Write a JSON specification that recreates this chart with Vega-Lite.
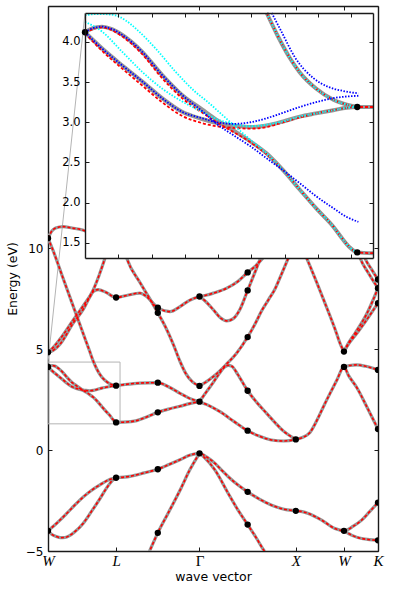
{
"$schema":"https://vega.github.io/schema/vega-lite/v6.json",
"width":330,"height":545,
"autosize":{"type":"none"},
"padding":{"left":48,"top":6,"right":17,"bottom":38},
"config":{"view":{"stroke":null},"axis":{"grid":false,"domainColor":"#1a1a1a","tickColor":"#1a1a1a","domainWidth":1.4,"tickWidth":1,"labelColor":"#000","labelFont":"DejaVu Sans","labelFontSize":12,"titleFont":"DejaVu Sans","titleFontWeight":"normal","titleFontSize":12.5,"titleColor":"#000"}},
"datasets":{
"box":[{"k0":0,"k1":0.748,"e0":1.3,"e1":4.36}],
"conn":[{"k0":0,"e0":4.36,"k1":0.3842,"e1":21.65}],
"ibox":[{"k0":0,"k1":0.748,"e0":1.31,"e1":4.36}],
"main":[
{"b":"m1","k":0,"E":4.12},{"b":"m1","k":0.02,"E":4.17},{"b":"m1","k":0.044,"E":4.19},{"b":"m1","k":0.07,"E":4.16},{"b":"m1","k":0.096,"E":4.09},{"b":"m1","k":0.148,"E":3.88},{"b":"m1","k":0.2,"E":3.59},{"b":"m1","k":0.252,"E":3.34},{"b":"m1","k":0.304,"E":3.16},{"b":"m1","k":0.342,"E":3.03},{"b":"m1","k":0.385,"E":2.9},{"b":"m1","k":0.43,"E":2.76},{"b":"m1","k":0.472,"E":2.61},{"b":"m1","k":0.515,"E":2.4},{"b":"m1","k":0.558,"E":2.16},{"b":"m1","k":0.6,"E":1.93},{"b":"m1","k":0.645,"E":1.7},{"b":"m1","k":0.67,"E":1.54},{"b":"m1","k":0.688,"E":1.44},{"b":"m1","k":0.7071,"E":1.37},
{"b":"m2","k":0,"E":4.12},{"b":"m2","k":0.044,"E":3.92},{"b":"m2","k":0.096,"E":3.71},{"b":"m2","k":0.148,"E":3.51},{"b":"m2","k":0.2,"E":3.3},{"b":"m2","k":0.252,"E":3.13},{"b":"m2","k":0.304,"E":3.04},{"b":"m2","k":0.342,"E":2.99},{"b":"m2","k":0.385,"E":2.96},{"b":"m2","k":0.43,"E":2.94},{"b":"m2","k":0.472,"E":2.96},{"b":"m2","k":0.515,"E":3.01},{"b":"m2","k":0.558,"E":3.07},{"b":"m2","k":0.6,"E":3.11},{"b":"m2","k":0.645,"E":3.15},{"b":"m2","k":0.68,"E":3.18},{"b":"m2","k":0.7071,"E":3.19},
{"b":"m3","k":0,"E":10.5},{"b":"m3","k":0.049,"E":9.93},{"b":"m3","k":0.15,"E":8.6},{"b":"m3","k":0.25,"E":7.28},{"b":"m3","k":0.35,"E":5.97},{"b":"m3","k":0.43,"E":4.93},{"b":"m3","k":0.472,"E":4.38},{"b":"m3","k":0.5,"E":4.08},{"b":"m3","k":0.532,"E":3.8},{"b":"m3","k":0.558,"E":3.62},{"b":"m3","k":0.6,"E":3.42},{"b":"m3","k":0.645,"E":3.28},{"b":"m3","k":0.68,"E":3.22},{"b":"m3","k":0.7071,"E":3.19},
{"b":"m4","k":0,"E":10.5},{"b":"m4","k":0.04,"E":10.85},{"b":"m4","k":0.08,"E":11.0},{"b":"m4","k":0.156,"E":11.07},{"b":"m4","k":0.25,"E":11.0},{"b":"m4","k":0.36,"E":10.9},{"b":"m4","k":0.45,"E":10.7},
{"b":"m5","k":0,"E":4.85},{"b":"m5","k":0.03,"E":4.88},{"b":"m5","k":0.125,"E":5.25},{"b":"m5","k":0.263,"E":6.3},{"b":"m5","k":0.367,"E":6.98},{"b":"m5","k":0.43,"E":7.55},{"b":"m5","k":0.47,"E":7.85},{"b":"m5","k":0.52,"E":7.95},{"b":"m5","k":0.6,"E":7.82},{"b":"m5","k":0.7071,"E":7.56},{"b":"m5","k":0.817,"E":7.66},{"b":"m5","k":0.955,"E":7.78},{"b":"m5","k":1.02,"E":7.62},{"b":"m5","k":1.1401,"E":7.05},{"b":"m5","k":1.267,"E":6.86},{"b":"m5","k":1.371,"E":7.11},{"b":"m5","k":1.47,"E":7.42},{"b":"m5","k":1.5731,"E":7.61},
{"b":"m6","k":0,"E":4.85},{"b":"m6","k":0.03,"E":4.97},{"b":"m6","k":0.125,"E":5.5},{"b":"m6","k":0.263,"E":6.45},{"b":"m6","k":0.367,"E":7.15},{"b":"m6","k":0.47,"E":7.94},{"b":"m6","k":0.53,"E":8.65},{"b":"m6","k":0.592,"E":9.51},{"b":"m6","k":0.65,"E":10.4},
{"b":"m7","k":0.78,"E":10.1},{"b":"m7","k":0.824,"E":9.43},{"b":"m7","k":0.955,"E":8.3},{"b":"m7","k":1.05,"E":7.55},{"b":"m7","k":1.1401,"E":6.8},{"b":"m7","k":1.22,"E":6.1},{"b":"m7","k":1.3,"E":5.25},{"b":"m7","k":1.37,"E":4.4},{"b":"m7","k":1.43,"E":3.8},{"b":"m7","k":1.5,"E":3.38},{"b":"m7","k":1.5731,"E":3.18},
{"b":"m8","k":0.7071,"E":1.37},{"b":"m8","k":0.78,"E":1.38},{"b":"m8","k":0.921,"E":1.46},{"b":"m8","k":1.03,"E":1.65},{"b":"m8","k":1.1401,"E":1.87},{"b":"m8","k":1.25,"E":2.03},{"b":"m8","k":1.371,"E":2.17},{"b":"m8","k":1.47,"E":2.3},{"b":"m8","k":1.5731,"E":2.4},
{"b":"m9","k":0.7071,"E":3.19},{"b":"m9","k":0.8,"E":3.25},{"b":"m9","k":0.956,"E":3.32},{"b":"m9","k":1.1401,"E":3.34},{"b":"m9","k":1.25,"E":3.14},{"b":"m9","k":1.371,"E":2.81},{"b":"m9","k":1.47,"E":2.56},{"b":"m9","k":1.5731,"E":2.4},
{"b":"m10","k":1.5731,"E":2.4},{"b":"m10","k":1.65,"E":2.25},{"b":"m10","k":1.786,"E":1.9},{"b":"m10","k":1.93,"E":1.42},{"b":"m10","k":2.0731,"E":0.96},{"b":"m10","k":2.2,"E":0.68},{"b":"m10","k":2.32,"E":0.5},{"b":"m10","k":2.45,"E":0.45},{"b":"m10","k":2.5731,"E":0.53},{"b":"m10","k":2.64,"E":0.62},{"b":"m10","k":2.72,"E":0.87},{"b":"m10","k":2.79,"E":1.45},{"b":"m10","k":2.86,"E":2.15},{"b":"m10","k":2.93,"E":2.82},{"b":"m10","k":3.0,"E":3.47},{"b":"m10","k":3.0731,"E":4.12},{"b":"m10","k":3.12,"E":3.7},{"b":"m10","k":3.206,"E":3.1},{"b":"m10","k":3.31,"E":2.15},{"b":"m10","k":3.4267,"E":1.04},
{"b":"m11","k":1.5731,"E":2.4},{"b":"m11","k":1.65,"E":2.92},{"b":"m11","k":1.72,"E":3.38},{"b":"m11","k":1.78,"E":3.8},{"b":"m11","k":1.83,"E":4.1},{"b":"m11","k":1.87,"E":4.2},{"b":"m11","k":1.91,"E":4.15},{"b":"m11","k":1.97,"E":3.75},{"b":"m11","k":2.0731,"E":2.94},{"b":"m11","k":2.17,"E":2.35},{"b":"m11","k":2.27,"E":1.82},{"b":"m11","k":2.36,"E":1.35},{"b":"m11","k":2.443,"E":0.95},{"b":"m11","k":2.5731,"E":0.53},
{"b":"m12","k":1.5731,"E":3.18},{"b":"m12","k":1.65,"E":3.4},{"b":"m12","k":1.717,"E":3.64},{"b":"m12","k":1.79,"E":3.95},{"b":"m12","k":1.856,"E":4.27},{"b":"m12","k":1.95,"E":4.75},{"b":"m12","k":2.0731,"E":5.6},{"b":"m12","k":2.15,"E":6.25},{"b":"m12","k":2.219,"E":6.9},{"b":"m12","k":2.29,"E":7.45},{"b":"m12","k":2.357,"E":7.98},{"b":"m12","k":2.425,"E":8.72},{"b":"m12","k":2.495,"E":9.51},{"b":"m12","k":2.58,"E":10.5},
{"b":"m13","k":1.5731,"E":7.61},{"b":"m13","k":1.65,"E":7.68},{"b":"m13","k":1.72,"E":7.78},{"b":"m13","k":1.856,"E":8.02},{"b":"m13","k":1.97,"E":8.35},{"b":"m13","k":2.0731,"E":8.8},{"b":"m13","k":2.15,"E":9.1},{"b":"m13","k":2.219,"E":9.45},{"b":"m13","k":2.33,"E":10.1},
{"b":"m14","k":1.5731,"E":7.61},{"b":"m14","k":1.64,"E":7.35},{"b":"m14","k":1.717,"E":6.95},{"b":"m14","k":1.79,"E":6.55},{"b":"m14","k":1.856,"E":6.4},{"b":"m14","k":1.92,"E":6.5},{"b":"m14","k":1.994,"E":6.98},{"b":"m14","k":2.0731,"E":7.91},{"b":"m14","k":2.14,"E":8.7},{"b":"m14","k":2.201,"E":9.43},{"b":"m14","k":2.3,"E":10.4},
{"b":"m15","k":2.6,"E":10.45},{"b":"m15","k":2.686,"E":9.51},{"b":"m15","k":2.876,"E":7.28},{"b":"m15","k":2.98,"E":6.0},{"b":"m15","k":3.04,"E":5.2},{"b":"m15","k":3.0731,"E":4.88},
{"b":"m16","k":3.0731,"E":4.12},{"b":"m16","k":3.13,"E":4.19},{"b":"m16","k":3.206,"E":4.22},{"b":"m16","k":3.3,"E":4.15},{"b":"m16","k":3.4267,"E":3.97},
{"b":"m17","k":3.0731,"E":4.88},{"b":"m17","k":3.12,"E":5.25},{"b":"m17","k":3.21,"E":5.8},{"b":"m17","k":3.33,"E":6.6},{"b":"m17","k":3.4267,"E":7.28},
{"b":"m18","k":3.0731,"E":4.88},{"b":"m18","k":3.12,"E":5.3},{"b":"m18","k":3.19,"E":5.8},{"b":"m18","k":3.31,"E":6.75},{"b":"m18","k":3.4267,"E":8.02},
{"b":"m19","k":3.19,"E":10.3},{"b":"m19","k":3.24,"E":9.53},{"b":"m19","k":3.33,"E":8.75},{"b":"m19","k":3.4267,"E":8.02},
{"b":"m20","k":3.24,"E":10.3},{"b":"m20","k":3.29,"E":9.53},{"b":"m20","k":3.36,"E":8.95},{"b":"m20","k":3.4267,"E":8.45},
{"b":"m21","k":0,"E":-4.0},{"b":"m21","k":0.1,"E":-3.58},{"b":"m21","k":0.194,"E":-3.14},{"b":"m21","k":0.28,"E":-2.72},{"b":"m21","k":0.367,"E":-2.32},{"b":"m21","k":0.45,"E":-2.0},{"b":"m21","k":0.54,"E":-1.72},{"b":"m21","k":0.62,"E":-1.5},{"b":"m21","k":0.67,"E":-1.41},{"b":"m21","k":0.7071,"E":-1.37},
{"b":"m22","k":0,"E":-4.0},{"b":"m22","k":0.04,"E":-4.18},{"b":"m22","k":0.083,"E":-4.28},{"b":"m22","k":0.13,"E":-4.34},{"b":"m22","k":0.177,"E":-4.33},{"b":"m22","k":0.22,"E":-4.25},{"b":"m22","k":0.27,"E":-4.08},{"b":"m22","k":0.367,"E":-3.62},{"b":"m22","k":0.45,"E":-3.05},{"b":"m22","k":0.54,"E":-2.4},{"b":"m22","k":0.62,"E":-1.8},{"b":"m22","k":0.67,"E":-1.5},{"b":"m22","k":0.7071,"E":-1.37},
{"b":"m23","k":0.7071,"E":-1.37},{"b":"m23","k":0.85,"E":-1.3},{"b":"m23","k":1.0,"E":-1.13},{"b":"m23","k":1.1401,"E":-0.95},{"b":"m23","k":1.25,"E":-0.73},{"b":"m23","k":1.37,"E":-0.48},{"b":"m23","k":1.47,"E":-0.26},{"b":"m23","k":1.5731,"E":-0.16},{"b":"m23","k":1.65,"E":-0.35},{"b":"m23","k":1.734,"E":-0.66},{"b":"m23","k":1.8,"E":-0.98},{"b":"m23","k":1.872,"E":-1.32},{"b":"m23","k":1.97,"E":-1.72},{"b":"m23","k":2.0731,"E":-2.07},{"b":"m23","k":2.2,"E":-2.44},{"b":"m23","k":2.323,"E":-2.73},{"b":"m23","k":2.45,"E":-2.93},{"b":"m23","k":2.5731,"E":-3.01},{"b":"m23","k":2.64,"E":-3.05},{"b":"m23","k":2.703,"E":-3.14},{"b":"m23","k":2.842,"E":-3.47},{"b":"m23","k":2.98,"E":-3.89},{"b":"m23","k":3.0731,"E":-4.0},{"b":"m23","k":3.17,"E":-3.77},{"b":"m23","k":3.257,"E":-3.47},{"b":"m23","k":3.34,"E":-3.05},{"b":"m23","k":3.4267,"E":-2.6},
{"b":"m24","k":1.5731,"E":-0.16},{"b":"m24","k":1.62,"E":-0.35},{"b":"m24","k":1.734,"E":-0.99},{"b":"m24","k":1.872,"E":-2.15},{"b":"m24","k":1.97,"E":-2.95},{"b":"m24","k":2.0731,"E":-3.69},{"b":"m24","k":2.16,"E":-4.33},{"b":"m24","k":2.24,"E":-4.96},{"b":"m24","k":2.33,"E":-5.6},
{"b":"m25","k":1.0,"E":-5.6},{"b":"m25","k":1.059,"E":-4.96},{"b":"m25","k":1.1401,"E":-4.1},{"b":"m25","k":1.25,"E":-3.1},{"b":"m25","k":1.371,"E":-1.99},{"b":"m25","k":1.47,"E":-1.0},{"b":"m25","k":1.5731,"E":-0.16},
{"b":"m26","k":3.0731,"E":-4.0},{"b":"m26","k":3.17,"E":-4.25},{"b":"m26","k":3.257,"E":-4.38},{"b":"m26","k":3.34,"E":-4.44},{"b":"m26","k":3.4267,"E":-4.47}
],
"mdots":[
{"k":0,"E":-4.0},{"k":0,"E":4.12},{"k":0,"E":4.85},{"k":0,"E":10.5},
{"k":0.7071,"E":-1.37},{"k":0.7071,"E":1.37},{"k":0.7071,"E":3.19},{"k":0.7071,"E":7.56},
{"k":1.1401,"E":-4.1},{"k":1.1401,"E":-0.95},{"k":1.1401,"E":1.87},{"k":1.1401,"E":3.34},{"k":1.1401,"E":6.8},{"k":1.1401,"E":7.05},
{"k":1.5731,"E":-0.16},{"k":1.5731,"E":2.4},{"k":1.5731,"E":3.18},{"k":1.5731,"E":7.61},
{"k":2.0731,"E":-3.69},{"k":2.0731,"E":-2.07},{"k":2.0731,"E":0.96},{"k":2.0731,"E":2.94},{"k":2.0731,"E":5.6},{"k":2.0731,"E":7.91},{"k":2.0731,"E":8.8},
{"k":2.5731,"E":-3.01},{"k":2.5731,"E":0.53},
{"k":3.0731,"E":-4.0},{"k":3.0731,"E":4.12},{"k":3.0731,"E":4.88},
{"k":3.4267,"E":-4.47},{"k":3.4267,"E":-2.6},{"k":3.4267,"E":1.04},{"k":3.4267,"E":3.97},{"k":3.4267,"E":7.28},{"k":3.4267,"E":8.02},{"k":3.4267,"E":8.45}
],
"ig":[
{"b":"g1","k":0,"E":4.12},{"b":"g1","k":0.02,"E":4.17},{"b":"g1","k":0.044,"E":4.19},{"b":"g1","k":0.07,"E":4.16},{"b":"g1","k":0.096,"E":4.09},{"b":"g1","k":0.148,"E":3.88},{"b":"g1","k":0.2,"E":3.59},{"b":"g1","k":0.252,"E":3.34},{"b":"g1","k":0.304,"E":3.16},{"b":"g1","k":0.342,"E":3.03},{"b":"g1","k":0.385,"E":2.9},{"b":"g1","k":0.43,"E":2.76},{"b":"g1","k":0.472,"E":2.61},{"b":"g1","k":0.515,"E":2.4},{"b":"g1","k":0.558,"E":2.16},{"b":"g1","k":0.6,"E":1.93},{"b":"g1","k":0.645,"E":1.7},{"b":"g1","k":0.67,"E":1.54},{"b":"g1","k":0.688,"E":1.44},{"b":"g1","k":0.7071,"E":1.38},{"b":"g1","k":0.748,"E":1.37},
{"b":"g2","k":0,"E":4.12},{"b":"g2","k":0.044,"E":3.92},{"b":"g2","k":0.096,"E":3.71},{"b":"g2","k":0.148,"E":3.51},{"b":"g2","k":0.2,"E":3.3},{"b":"g2","k":0.252,"E":3.13},{"b":"g2","k":0.304,"E":3.04},{"b":"g2","k":0.342,"E":2.99},{"b":"g2","k":0.385,"E":2.96},{"b":"g2","k":0.43,"E":2.94},{"b":"g2","k":0.472,"E":2.96},{"b":"g2","k":0.515,"E":3.01},{"b":"g2","k":0.558,"E":3.07},{"b":"g2","k":0.6,"E":3.11},{"b":"g2","k":0.645,"E":3.15},{"b":"g2","k":0.68,"E":3.18},{"b":"g2","k":0.7071,"E":3.19},{"b":"g2","k":0.748,"E":3.19},
{"b":"g3","k":0.472,"E":4.36},{"b":"g3","k":0.5,"E":4.08},{"b":"g3","k":0.532,"E":3.8},{"b":"g3","k":0.558,"E":3.62},{"b":"g3","k":0.6,"E":3.42},{"b":"g3","k":0.645,"E":3.28},{"b":"g3","k":0.68,"E":3.22},{"b":"g3","k":0.7071,"E":3.19}
],
"ir":[
{"b":"r1","k":0,"E":4.12},{"b":"r1","k":0.044,"E":4.18},{"b":"r1","k":0.096,"E":4.07},{"b":"r1","k":0.148,"E":3.85},{"b":"r1","k":0.2,"E":3.55},{"b":"r1","k":0.252,"E":3.3},{"b":"r1","k":0.304,"E":3.12},{"b":"r1","k":0.342,"E":3.0},{"b":"r1","k":0.385,"E":2.88},{"b":"r1","k":0.43,"E":2.75},{"b":"r1","k":0.472,"E":2.6},{"b":"r1","k":0.515,"E":2.4},{"b":"r1","k":0.558,"E":2.16},{"b":"r1","k":0.6,"E":1.93},{"b":"r1","k":0.645,"E":1.7},{"b":"r1","k":0.67,"E":1.54},{"b":"r1","k":0.688,"E":1.44},{"b":"r1","k":0.7071,"E":1.38},{"b":"r1","k":0.748,"E":1.37},
{"b":"r2","k":0,"E":4.11},{"b":"r2","k":0.044,"E":3.89},{"b":"r2","k":0.096,"E":3.67},{"b":"r2","k":0.148,"E":3.46},{"b":"r2","k":0.2,"E":3.25},{"b":"r2","k":0.252,"E":3.08},{"b":"r2","k":0.304,"E":2.99},{"b":"r2","k":0.342,"E":2.95},{"b":"r2","k":0.385,"E":2.93},{"b":"r2","k":0.43,"E":2.92},{"b":"r2","k":0.472,"E":2.94},{"b":"r2","k":0.515,"E":3.0},{"b":"r2","k":0.558,"E":3.06},{"b":"r2","k":0.6,"E":3.11},{"b":"r2","k":0.645,"E":3.15},{"b":"r2","k":0.68,"E":3.18},{"b":"r2","k":0.7071,"E":3.19},{"b":"r2","k":0.748,"E":3.19},
{"b":"r3","k":0.472,"E":4.36},{"b":"r3","k":0.5,"E":4.08},{"b":"r3","k":0.532,"E":3.8},{"b":"r3","k":0.558,"E":3.62},{"b":"r3","k":0.6,"E":3.42},{"b":"r3","k":0.645,"E":3.28},{"b":"r3","k":0.68,"E":3.22},{"b":"r3","k":0.7071,"E":3.19}
],
"ib":[
{"b":"b1","k":0,"E":4.12},{"b":"b1","k":0.02,"E":4.17},{"b":"b1","k":0.044,"E":4.19},{"b":"b1","k":0.07,"E":4.16},{"b":"b1","k":0.096,"E":4.09},{"b":"b1","k":0.148,"E":3.88},{"b":"b1","k":0.2,"E":3.59},{"b":"b1","k":0.252,"E":3.34},{"b":"b1","k":0.304,"E":3.14},{"b":"b1","k":0.342,"E":2.98},{"b":"b1","k":0.385,"E":2.84},{"b":"b1","k":0.43,"E":2.7},{"b":"b1","k":0.472,"E":2.55},{"b":"b1","k":0.515,"E":2.4},{"b":"b1","k":0.558,"E":2.24},{"b":"b1","k":0.6,"E":2.08},{"b":"b1","k":0.645,"E":1.93},{"b":"b1","k":0.68,"E":1.82},{"b":"b1","k":0.71,"E":1.76},
{"b":"b2","k":0,"E":4.12},{"b":"b2","k":0.044,"E":3.92},{"b":"b2","k":0.096,"E":3.71},{"b":"b2","k":0.148,"E":3.51},{"b":"b2","k":0.2,"E":3.3},{"b":"b2","k":0.252,"E":3.13},{"b":"b2","k":0.304,"E":3.05},{"b":"b2","k":0.342,"E":3.0},{"b":"b2","k":0.385,"E":2.98},{"b":"b2","k":0.43,"E":3.0},{"b":"b2","k":0.472,"E":3.05},{"b":"b2","k":0.515,"E":3.12},{"b":"b2","k":0.558,"E":3.19},{"b":"b2","k":0.6,"E":3.25},{"b":"b2","k":0.645,"E":3.3},{"b":"b2","k":0.71,"E":3.33},
{"b":"b3","k":0.485,"E":4.36},{"b":"b3","k":0.51,"E":4.13},{"b":"b3","k":0.545,"E":3.81},{"b":"b3","k":0.593,"E":3.55},{"b":"b3","k":0.632,"E":3.44},{"b":"b3","k":0.67,"E":3.39},{"b":"b3","k":0.71,"E":3.36}
],
"ic":[
{"b":"c1","k":0,"E":4.33},{"b":"c1","k":0.026,"E":4.345},{"b":"c1","k":0.052,"E":4.345},{"b":"c1","k":0.079,"E":4.33},{"b":"c1","k":0.105,"E":4.27},{"b":"c1","k":0.131,"E":4.17},{"b":"c1","k":0.183,"E":3.92},{"b":"c1","k":0.235,"E":3.63},{"b":"c1","k":0.286,"E":3.38},{"b":"c1","k":0.317,"E":3.26},{"b":"c1","k":0.35,"E":3.12},{"b":"c1","k":0.385,"E":2.97},{"b":"c1","k":0.43,"E":2.78},{"b":"c1","k":0.472,"E":2.61},{"b":"c1","k":0.515,"E":2.4},{"b":"c1","k":0.558,"E":2.16},{"b":"c1","k":0.6,"E":1.93},{"b":"c1","k":0.645,"E":1.7},{"b":"c1","k":0.67,"E":1.54},{"b":"c1","k":0.688,"E":1.44},{"b":"c1","k":0.7071,"E":1.38},
{"b":"c2","k":0,"E":4.25},{"b":"c2","k":0.044,"E":4.13},{"b":"c2","k":0.096,"E":3.88},{"b":"c2","k":0.148,"E":3.63},{"b":"c2","k":0.2,"E":3.42},{"b":"c2","k":0.252,"E":3.26},{"b":"c2","k":0.304,"E":3.13},{"b":"c2","k":0.342,"E":3.04},{"b":"c2","k":0.385,"E":2.98},{"b":"c2","k":0.43,"E":2.95},{"b":"c2","k":0.472,"E":2.97},{"b":"c2","k":0.515,"E":3.01},{"b":"c2","k":0.558,"E":3.07},{"b":"c2","k":0.6,"E":3.11},{"b":"c2","k":0.645,"E":3.15},{"b":"c2","k":0.68,"E":3.18},{"b":"c2","k":0.7071,"E":3.19},
{"b":"c3","k":0.472,"E":4.36},{"b":"c3","k":0.5,"E":4.08},{"b":"c3","k":0.532,"E":3.8},{"b":"c3","k":0.558,"E":3.62},{"b":"c3","k":0.6,"E":3.42},{"b":"c3","k":0.645,"E":3.28},{"b":"c3","k":0.68,"E":3.22},{"b":"c3","k":0.7071,"E":3.19}
],
"idots":[{"k":0,"E":4.12},{"k":0.7071,"E":3.19},{"k":0.7071,"E":1.38}]
},
"layer":[
{
"resolve":{"axis":{"x":"independent","y":"independent"}},
"layer":[
{"data":{"name":"box"},"mark":{"type":"rect","fill":"transparent","stroke":"#b4b4b4","strokeWidth":1},
"encoding":{
"x":{"field":"k0","type":"quantitative","scale":{"domain":[0,3.4267],"nice":false,"zero":false},
"axis":{"orient":"bottom","values":[0,0.7071,1.5731,2.5731,3.0731,3.4267],"labelExpr":"datum.value < 0.3 ? 'W' : datum.value < 1 ? 'L' : datum.value < 2 ? 'Γ' : datum.value < 2.8 ? 'X' : datum.value < 3.3 ? 'W' : 'K'","labelFont":"Liberation Serif","labelFontSize":15,"labelFontStyle":{"condition":{"test":"datum.value > 1 && datum.value < 2","value":"normal"},"value":"italic"},"labelFlush":false,"labelOverlap":false,"tickSize":-4,"labelPadding":6,"title":"wave vector","titlePadding":2}},
"x2":{"field":"k1"},
"y":{"field":"e0","type":"quantitative","scale":{"domain":[-5,22],"nice":false,"zero":false},
"axis":{"orient":"left","values":[-5,0,5,10],"labelExpr":"datum.value < 0 ? '−' + abs(datum.value) : '' + datum.value","tickSize":-4,"labelPadding":9,"labelFlush":false,"title":"Energy (eV)","titlePadding":6}},
"y2":{"field":"e1"}}},
{"data":{"name":"conn"},"mark":{"type":"rule","color":"#b4b4b4","strokeWidth":1},
"encoding":{
"x":{"field":"k0","type":"quantitative","axis":{"orient":"top","values":[0,0.7071,1.5731,2.5731,3.0731,3.4267],"labels":false,"tickSize":-4,"title":null}},
"x2":{"field":"k1"},
"y":{"field":"e0","type":"quantitative","axis":{"orient":"right","values":[-5,0,5,10],"labels":false,"tickSize":-4,"title":null}},
"y2":{"field":"e1"}}},
{"data":{"name":"main"},"mark":{"type":"line","clip":true,"color":"#979797","strokeWidth":3.2,"interpolate":"monotone"},
"encoding":{"x":{"field":"k","type":"quantitative","axis":null},"y":{"field":"E","type":"quantitative","axis":null},"detail":{"field":"b"}}},
{"data":{"name":"main"},"mark":{"type":"line","clip":true,"color":"#ff0000","strokeWidth":1.6,"strokeDash":[3,2],"interpolate":"monotone"},
"encoding":{"x":{"field":"k","type":"quantitative","axis":null},"y":{"field":"E","type":"quantitative","axis":null},"detail":{"field":"b"}}},
{"data":{"name":"mdots"},"mark":{"type":"circle","clip":true,"color":"#000","opacity":1,"size":40},
"encoding":{"x":{"field":"k","type":"quantitative","axis":null},"y":{"field":"E","type":"quantitative","axis":null}}}
]
},
{
"resolve":{"axis":{"x":"independent","y":"independent"}},
"layer":[
{"data":{"name":"ibox"},"mark":{"type":"rect","fill":"#ffffff","stroke":null},
"encoding":{
"x":{"field":"k0","type":"quantitative","scale":{"domain":[0,0.748],"range":[37,325],"nice":false,"zero":false},
"axis":{"orient":"bottom","offset":-293,"values":[0.0864,0.1728,0.2592,0.3456,0.432,0.5184,0.6048,0.6912],"labels":false,"tickSize":-4,"title":null,"zindex":1}},
"x2":{"field":"k1"},
"y":{"field":"e0","type":"quantitative","scale":{"domain":[1.31,4.36],"range":[252,7],"nice":false,"zero":false},
"axis":{"orient":"left","offset":-37,"values":[1.5,2,2.5,3,3.5,4],"format":".1f","tickSize":-4,"labelPadding":9,"labelFontSize":11.5,"labelFlush":false,"title":null,"zindex":1}},
"y2":{"field":"e1"}}},
{"data":{"name":"ig"},"mark":{"type":"line","color":"#979797","strokeWidth":4,"interpolate":"monotone"},
"encoding":{
"x":{"field":"k","type":"quantitative","axis":{"orient":"top","offset":-7,"values":[0.0864,0.1728,0.2592,0.3456,0.432,0.5184,0.6048,0.6912],"labels":false,"tickSize":-4,"title":null,"zindex":1}},
"y":{"field":"E","type":"quantitative","axis":{"orient":"right","offset":-5,"values":[1.5,2,2.5,3,3.5,4],"labels":false,"tickSize":-4,"title":null,"zindex":1}},
"detail":{"field":"b"}}},
{"data":{"name":"ir"},"mark":{"type":"line","color":"#ff0000","strokeWidth":1.8,"strokeDash":[3,2],"interpolate":"monotone"},
"encoding":{"x":{"field":"k","type":"quantitative","axis":null},"y":{"field":"E","type":"quantitative","axis":null},"detail":{"field":"b"}}},
{"data":{"name":"ic"},"mark":{"type":"line","color":"#00ffff","strokeWidth":1.8,"strokeDash":[1.5,1.5],"interpolate":"monotone"},
"encoding":{"x":{"field":"k","type":"quantitative","axis":null},"y":{"field":"E","type":"quantitative","axis":null},"detail":{"field":"b"}}},
{"data":{"name":"ib"},"mark":{"type":"line","color":"#0000ff","strokeWidth":1.8,"strokeDash":[1.5,1.5],"interpolate":"monotone"},
"encoding":{"x":{"field":"k","type":"quantitative","axis":null},"y":{"field":"E","type":"quantitative","axis":null},"detail":{"field":"b"}}},
{"data":{"name":"idots"},"mark":{"type":"circle","color":"#000","opacity":1,"size":40},
"encoding":{"x":{"field":"k","type":"quantitative","axis":null},"y":{"field":"E","type":"quantitative","axis":null}}}
]
}
],
"resolve":{"scale":{"x":"independent","y":"independent"}}
}
